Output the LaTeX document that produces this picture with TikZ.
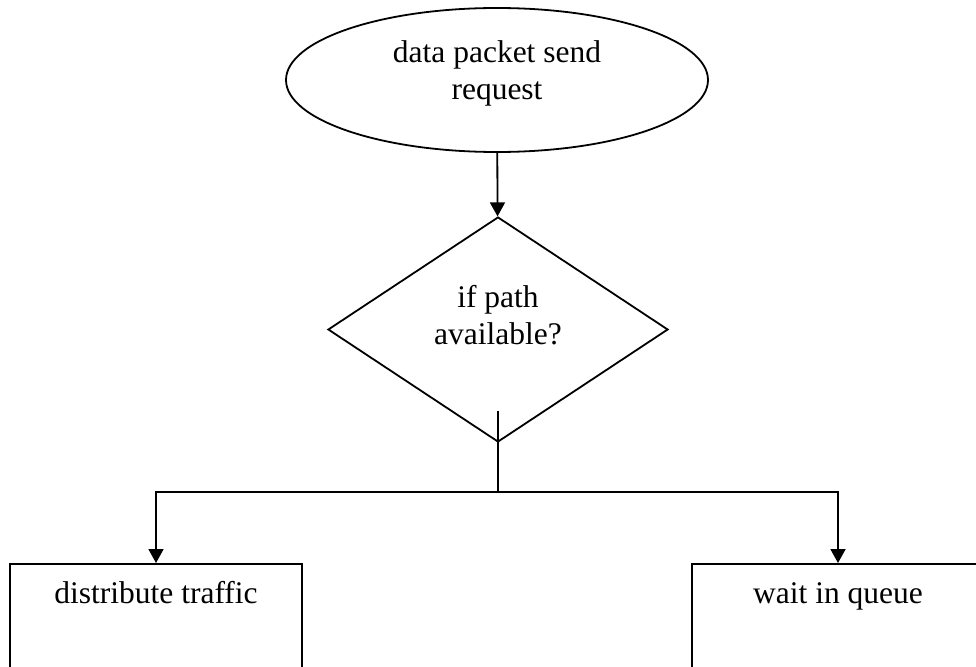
\documentclass[tikz,border=0pt]{standalone}
\usepackage{fontspec}
\setmainfont{Liberation Serif}
\usetikzlibrary{arrows.meta,shapes.geometric,positioning,calc}

\begin{document}
\begin{tikzpicture}[x=1pt, y=-1pt, line width=1.8pt,
        every node/.style={font=\fontsize{31.5}{37}\selectfont, align=center},
        arr/.style={-{Triangle[length=14pt,width=15pt]}},
        startnode/.style={ellipse, draw, minimum width=422pt, minimum height=144pt, text depth=19pt},
        decision/.style={diamond, draw, minimum width=340pt, minimum height=225pt, aspect=1.5, inner sep=0pt, text depth=30pt},
        process/.style={rectangle, draw, minimum width=292pt, inner ysep=0pt, text height=40pt, text depth=90pt, anchor=north}]

        % page frame, everything below the bottom edge is cut off
        \useasboundingbox (0,0) rectangle (976,666);
        \clip (0,0) rectangle (976,666);

        \node[startnode] (request) at (497,80) {data packet send\\request};
        \node[decision] (path) at (498,329.5) {if path\\available?};

        \node[process] (distribute) at (156,563) {distribute traffic};
        \node[process] (queue) at (838,563) {wait in queue};

        % the stem starts inside the diamond
        \coordinate (stem) at ($(path.south)+(0,-32)$);
        \coordinate (split) at (stem |- 0,492);

        \draw[arr] (request) -- (path);
        \draw (stem) -- (split);
        \draw[arr] (split) -| (distribute);
        \draw[arr] (split) -| (queue);

\end{tikzpicture}
\end{document}
